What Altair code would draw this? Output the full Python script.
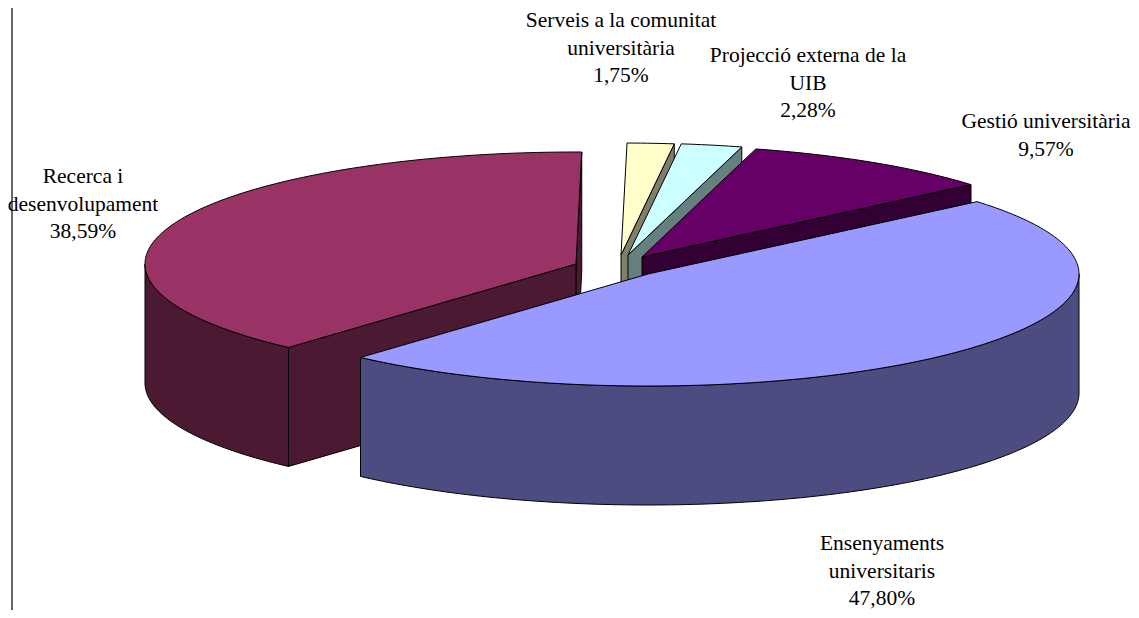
import math
import altair as alt

categories = ["Serveis a la comunitat\nuniversitària", "Projecció externa de la\nUIB", "Gestió universitària",
              "Ensenyaments\nuniversitaris", "Recerca i\ndesenvolupament"]
values = [1.75, 2.28, 9.57, 47.80, 38.59]
percent_text = ["1,75%", "2,28%", "9,57%", "47,80%", "38,59%"]
top_colors = ["#FFFFCC", "#CCFFFF", "#660066", "#9999FF", "#993366"]
wall_colors = ["#80806A", "#668080", "#330033", "#4C4C80", "#4C1933"]

# layout of the exploded 3-D pie (page pixels, minus the 8px body margin below)
RX, RY, DEPTH, START = 431, 112, 119, 0.8
apexes = [(621, 255), (628, 255), (642, 257), (648, 274), (576, 264)]
label_first_line = [(621, 21), (808, 56), (1046, 122), (882, 544), (83, 177)]
MARGIN = 8


def rim(i, t):
    ax, ay = apexes[i]
    r = math.radians(t)
    return (ax + RX * math.sin(r) - MARGIN, ay - RY * math.cos(r) - MARGIN)


def centre(i, drop=0):
    return (apexes[i][0] - MARGIN, apexes[i][1] - MARGIN + drop)


def arc(i, t0, t1):
    n = max(2, int(abs(t1 - t0)) + 1)
    return [rim(i, t0 + (t1 - t0) * k / n) for k in range(n + 1)]


def feature(points, colour, name):
    ring = [list(p) for p in points] + [list(points[0])]
    return {"type": "Feature", "properties": {"colour": colour, "name": name},
            "geometry": {"type": "Polygon", "coordinates": [ring]}}


def down(points):
    return [(x, y + DEPTH) for x, y in points]


spans = []
angle = START
for v in values:
    spans.append((angle, angle + v * 3.6))
    angle += v * 3.6

features = []
names = [c.replace("\n", " ") for c in categories]
for i in range(5):
    t0, t1 = spans[i]
    wall, top, name = wall_colors[i], top_colors[i], names[i]
    if i < 3:  # back slices: only the right cut face shows
        end = rim(i, t1)
        face = [centre(i), end, (end[0], end[1] + DEPTH), centre(i, DEPTH)]
        features.append(feature(face, wall, name))
    elif i == 3:  # front slice: outer rim wall
        a = arc(i, 90, t1)
        features.append(feature(a + down(a)[::-1], wall, name))
    else:  # left slice: far cut face, near cut face, outer rim wall
        end = rim(i, t1)
        features.append(feature([centre(i), end, (end[0], end[1] + DEPTH), centre(i, DEPTH)], wall, name))
        st = rim(i, t0)
        features.append(feature([centre(i), st, (st[0], st[1] + DEPTH), centre(i, DEPTH)], wall, name))
        a = arc(i, t0, 270)
        features.append(feature(a + down(a)[::-1], wall, name))
    features.append(feature([centre(i)] + arc(i, t0, t1), top, name))

# draw the front slice last
order = [f for f in features if f["properties"]["name"] != names[3]] + \
        [f for f in features if f["properties"]["name"] == names[3]]

pie = alt.Chart(alt.Data(values=order)).mark_geoshape(
    stroke="black", strokeWidth=1, strokeJoin="round"
).encode(
    color=alt.Color("properties.colour:N", scale=None, legend=None)
).project(type="identity", scale=1, translate=[0, 0])

labels = alt.Chart(alt.Data(values=[
    {"t": f"{c}\n{p}", "px": x - MARGIN, "py": y - MARGIN}
    for c, p, (x, y) in zip(categories, percent_text, label_first_line)
])).mark_text(
    font="Liberation Serif", fontSize=21.5, lineBreak="\n", lineHeight=27.5,
    align="center", baseline="middle", color="black"
).encode(
    x=alt.X("px:Q", scale=None), y=alt.Y("py:Q", scale=None), text="t:N"
)

edge = alt.Chart(alt.Data(values=[{"a": 0}])).mark_rule(color="#333333", strokeWidth=1.5).encode(
    x=alt.value(4)
)

chart = alt.layer(pie, edge, labels).properties(
    width=1123, height=602, padding=0, autosize=alt.AutoSizeParams(type="none"),
    background="white"
).configure_view(stroke=None)

chart.save("out.html", embed_options={"renderer": "svg", "actions": False})
